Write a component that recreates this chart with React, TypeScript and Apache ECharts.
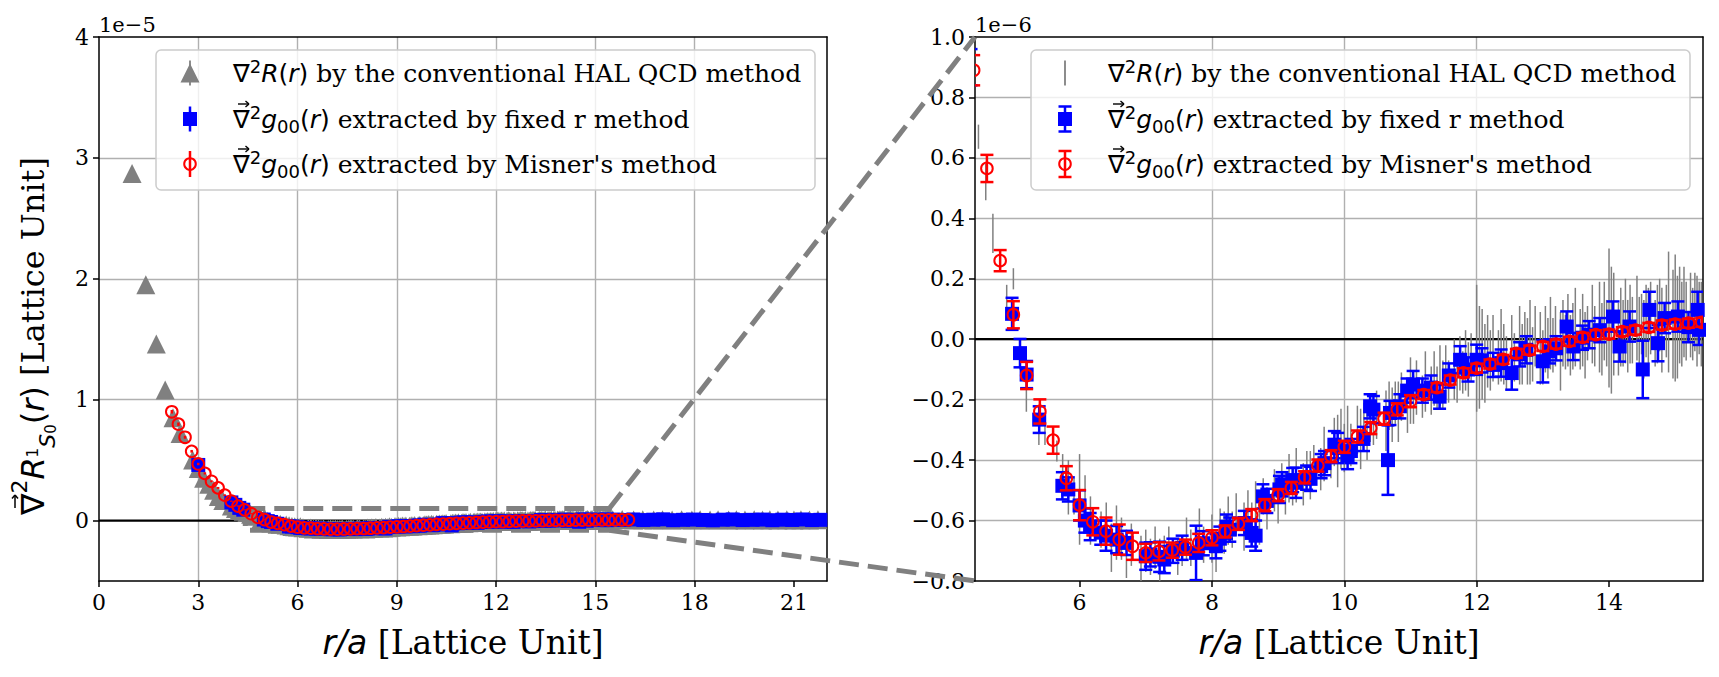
import React, { useEffect, useRef } from "react";
import * as echarts from "echarts";

const SERIF = "DejaVu Serif";
const MATH = "DejaVu Sans";
const GRAY = "#808080";
const BLUE = "#0000ff";
const RED = "#ff0000";

// Conventional HAL QCD method: [n = (r/a)^2, value (1e-6), error (1e-6)]
const halPoints: number[][] = [
  [1, 28.7, 0.2], [2, 19.5, 0.2], [3, 14.6, 0.15], [4, 10.8, 0.15], [5, 8.5, 0.12], [6, 7.2, 0.12],
  [8, 5.0, 0.1], [9, 4.3, 0.1], [10, 3.5, 0.1], [11, 3.0, 0.09], [12, 2.5, 0.08], [13, 2.0, 0.08],
  [14, 1.65, 0.07], [16, 1.2, 0.06], [17, 1.0, 0.06], [18, 0.9, 0.05], [19, 0.78, 0.05],
  [20, 0.67, 0.04], [21, 0.52, 0.06], [22, 0.35, 0.065], [24, 0.14, 0.04], [25, 0.2, 0.035],
  [26, -0.05, 0.05], [27, -0.2, 0.04], [29, -0.3, 0.05], [30, -0.31, 0.04], [32, -0.37, 0.035],
  [33, -0.43, 0.05], [34, -0.49, 0.09], [35, -0.52, 0.06], [36, -0.53, 0.15], [37, -0.52, 0.07],
  [38, -0.6, 0.08], [40, -0.63, 0.06], [41, -0.61, 0.07], [42, -0.69, 0.08], [43, -0.64, 0.09],
  [44, -0.66, 0.07], [45, -0.71, 0.08], [46, -0.68, 0.07], [48, -0.73, 0.08], [49, -0.7, 0.07],
  [50, -0.72, 0.06], [51, -0.69, 0.07], [52, -0.74, 0.08], [53, -0.71, 0.06], [54, -0.67, 0.05],
  [56, -0.72, 0.06], [57, -0.7, 0.05], [58, -0.66, 0.07], [59, -0.69, 0.06], [61, -0.64, 0.08],
  [62, -0.68, 0.06], [64, -0.66, 0.08], [65, -0.7, 0.07], [66, -0.62, 0.06], [67, -0.64, 0.07],
  [68, -0.6, 0.08], [69, -0.63, 0.06], [70, -0.58, 0.07], [72, -0.62, 0.08], [73, -0.56, 0.06],
  [74, -0.61, 0.07], [75, -0.55, 0.08], [76, -0.59, 0.09], [77, -0.52, 0.06], [78, -0.56, 0.07],
  [80, -0.5, 0.07], [81, -0.53, 0.08], [82, -0.47, 0.06], [83, -0.51, 0.07], [84, -0.46, 0.08],
  [85, -0.49, 0.06], [86, -0.45, 0.09], [88, -0.48, 0.07], [89, -0.43, 0.06], [90, -0.45, 0.08],
  [91, -0.41, 0.06], [93, -0.43, 0.07], [94, -0.38, 0.09], [96, -0.4, 0.06], [97, -0.34, 0.08],
  [98, -0.37, 0.12], [99, -0.33, 0.1], [100, -0.36, 0.08], [101, -0.31, 0.09], [102, -0.35, 0.07],
  [104, -0.3, 0.08], [105, -0.33, 0.1], [106, -0.28, 0.07], [107, -0.31, 0.09], [108, -0.26, 0.08],
  [109, -0.29, 0.06], [110, -0.25, 0.08], [113, -0.27, 0.1], [114, -0.22, 0.08], [115, -0.25, 0.09],
  [116, -0.21, 0.07], [117, -0.24, 0.1], [118, -0.19, 0.08], [120, -0.22, 0.09], [121, -0.17, 0.11],
  [122, -0.2, 0.08], [123, -0.16, 0.09], [125, -0.19, 0.07], [126, -0.14, 0.1], [128, -0.17, 0.08],
  [129, -0.13, 0.09], [130, -0.16, 0.07], [131, -0.12, 0.1], [132, -0.15, 0.08], [133, -0.11, 0.09],
  [134, -0.14, 0.07], [136, -0.1, 0.1], [137, -0.13, 0.08], [138, -0.08, 0.09], [139, -0.11, 0.07],
  [140, -0.07, 0.1], [141, -0.1, 0.09], [142, -0.06, 0.08], [144, -0.03, 0.21], [145, -0.06, 0.17],
  [146, -0.05, 0.15], [147, -0.08, 0.13], [148, -0.04, 0.12], [149, -0.07, 0.1], [150, -0.03, 0.11],
  [152, -0.06, 0.09], [153, -0.02, 0.12], [154, -0.05, 0.1], [155, -0.08, 0.09], [157, -0.03, 0.11],
  [158, -0.06, 0.08], [160, -0.02, 0.13], [161, -0.05, 0.1], [162, 0, 0.09], [163, -0.04, 0.11],
  [164, -0.01, 0.14], [165, -0.05, 0.09], [166, 0.01, 0.1], [168, -0.03, 0.12], [169, -0.06, 0.09],
  [170, 0, 0.11], [171, -0.03, 0.1], [172, 0.02, 0.12], [173, -0.02, 0.09], [174, 0.01, 0.1],
  [176, -0.04, 0.13], [177, 0.02, 0.11], [178, -0.01, 0.09], [179, 0.03, 0.12], [180, -0.02, 0.1],
  [181, 0.01, 0.11], [182, 0.04, 0.13], [184, 0, 0.1], [185, 0.03, 0.12], [186, -0.02, 0.11],
  [187, 0.02, 0.09], [189, 0.05, 0.13], [190, 0.01, 0.1], [192, 0.04, 0.15], [193, 0, 0.12],
  [194, 0.06, 0.13], [195, 0.02, 0.11], [196, 0.07, 0.23], [197, 0.03, 0.21], [198, 0.05, 0.17],
  [200, 0, 0.12], [201, 0.04, 0.13], [202, 0.02, 0.11], [203, 0.06, 0.14], [204, 0.01, 0.12],
  [205, 0.05, 0.13], [206, 0.03, 0.11], [208, 0.07, 0.14], [209, 0.02, 0.12], [210, 0.05, 0.1],
  [211, 0, 0.13], [212, 0.06, 0.12], [213, 0.03, 0.14], [214, 0.07, 0.12], [216, 0.02, 0.11],
  [217, 0.05, 0.13], [218, 0.08, 0.12], [219, 0.03, 0.14], [221, 0.06, 0.12], [222, 0.09, 0.2],
  [224, 0.05, 0.18], [225, 0.07, 0.21], [226, 0.04, 0.17], [227, 0.08, 0.16], [228, 0.05, 0.14],
  [229, 0.09, 0.15], [230, 0.06, 0.13], [232, 0.08, 0.14], [233, 0.05, 0.12], [234, 0.09, 0.13],
  [235, 0.06, 0.15], [236, 0.07, 0.12], [237, 0.05, 0.14],
  [241, 0.06, 0.15], [250, 0.08, 0.14], [261, 0.05, 0.16], [270, 0.07, 0.15], [281, 0.04, 0.17],
  [290, 0.06, 0.14], [300, 0.05, 0.16], [310, 0.07, 0.15], [321, 0.04, 0.17], [330, 0.06, 0.14],
  [341, 0.05, 0.16], [350, 0.07, 0.15], [362, 0.04, 0.18], [371, 0.06, 0.15], [381, 0.05, 0.16],
  [392, 0.07, 0.14], [402, 0.04, 0.17], [411, 0.06, 0.15], [421, 0.05, 0.16], [432, 0.07, 0.18],
  [441, 0.04, 0.15], [450, 0.06, 0.16], [461, 0.05, 0.17], [472, 0.07, 0.15],
];

// Fixed r method: [r/a, value (1e-6), error (1e-6)]
const fixedRPoints: number[][] = [
  [3.0, 4.6, 0.1], [4.0, 1.5, 0.08], [4.12, 1.3, 0.07], [4.24, 1.05, 0.06], [4.36, 0.9, 0.06],
  [4.98, 0.084, 0.053], [5.1, -0.046, 0.047], [5.2, -0.117, 0.045], [5.39, -0.266, 0.044],
  [5.74, -0.485, 0.045], [5.83, -0.497, 0.04], [6.0, -0.55, 0.05], [6.08, -0.6, 0.04],
  [6.16, -0.62, 0.045], [6.32, -0.64, 0.04], [6.4, -0.65, 0.05], [6.56, -0.663, 0.045],
  [6.71, -0.674, 0.04], [7.0, -0.718, 0.045], [7.07, -0.712, 0.04], [7.21, -0.72, 0.05],
  [7.28, -0.729, 0.045], [7.41, -0.7, 0.04], [7.55, -0.69, 0.04], [7.76, -0.707, 0.09],
  [7.87, -0.675, 0.04], [8.06, -0.685, 0.04], [8.12, -0.66, 0.04], [8.22, -0.62, 0.04],
  [8.27, -0.63, 0.04], [8.49, -0.608, 0.04], [8.6, -0.641, 0.045], [8.66, -0.65, 0.05],
  [8.77, -0.52, 0.04], [8.83, -0.535, 0.04], [9.02, -0.497, 0.045], [9.06, -0.48, 0.04],
  [9.22, -0.466, 0.04], [9.27, -0.475, 0.05], [9.43, -0.458, 0.04], [9.49, -0.462, 0.04],
  [9.65, -0.42, 0.04], [9.7, -0.41, 0.04], [9.85, -0.349, 0.045], [9.9, -0.36, 0.05],
  [10.05, -0.385, 0.045], [10.1, -0.37, 0.04], [10.29, -0.33, 0.04], [10.39, -0.222, 0.04],
  [10.44, -0.233, 0.045], [10.66, -0.4, 0.115], [10.69, -0.244, 0.04], [10.84, -0.222, 0.04],
  [10.95, -0.17, 0.04], [11.04, -0.15, 0.045], [11.18, -0.17, 0.04], [11.31, -0.16, 0.04],
  [11.44, -0.19, 0.04], [11.58, -0.12, 0.04], [11.75, -0.068, 0.045], [11.87, -0.1, 0.04],
  [12.0, -0.068, 0.05], [12.08, -0.07, 0.04], [12.25, -0.085, 0.04], [12.37, -0.079, 0.045],
  [12.53, -0.112, 0.055], [12.65, -0.05, 0.04], [12.75, -0.035, 0.045], [13.0, -0.073, 0.07],
  [13.1, -0.04, 0.04], [13.2, -0.03, 0.04], [13.36, 0.042, 0.05], [13.46, -0.024, 0.045],
  [13.6, 0.005, 0.04], [13.7, 0.015, 0.045], [13.86, 0.03, 0.04], [14.06, 0.075, 0.05],
  [14.16, -0.024, 0.05], [14.31, 0.042, 0.05], [14.51, -0.1, 0.095], [14.61, 0.097, 0.06],
  [14.74, -0.013, 0.06], [14.84, 0.07, 0.05], [15.04, 0.075, 0.05], [15.2, 0.04, 0.05],
  [15.34, 0.097, 0.06], [15.36, 0.031, 0.05],
  [15.55, 0.08, 0.1], [15.85, 0.05, 0.1], [16.15, 0.09, 0.1], [16.45, 0.04, 0.1], [16.75, 0.07, 0.1],
  [17.05, 0.1, 0.1], [17.35, 0.03, 0.1], [17.65, 0.06, 0.1], [17.95, 0.08, 0.1], [18.25, 0.05, 0.1],
  [18.55, 0.02, 0.1], [18.85, 0.07, 0.1], [19.15, 0.09, 0.1], [19.45, 0.04, 0.1], [19.75, 0.06, 0.1],
  [20.05, 0.08, 0.1], [20.35, 0.03, 0.1], [20.65, 0.07, 0.1], [20.95, 0.05, 0.1], [21.25, 0.09, 0.1],
  [21.55, 0.04, 0.1], [21.8, 0.06, 0.1],
];

// Misner's method: [r/a, value (1e-6), error (1e-6)]
const misnerPoints: number[][] = [
  [2.2, 9.0, 0.15], [2.4, 7.97, 0.14], [2.6, 6.89, 0.12], [2.8, 5.73, 0.11], [3.0, 4.68, 0.1],
  [3.2, 3.9, 0.09], [3.4, 3.25, 0.08], [3.6, 2.7, 0.08], [3.8, 2.1, 0.07], [4.0, 1.6, 0.06],
  [4.2, 1.2, 0.06], [4.4, 0.89, 0.05], [4.6, 0.565, 0.045], [4.8, 0.26, 0.035], [5.0, 0.081, 0.045],
  [5.2, -0.12, 0.045], [5.4, -0.239, 0.04], [5.6, -0.334, 0.045], [5.8, -0.46, 0.04], [6.0, -0.549, 0.05],
  [6.2, -0.604, 0.045], [6.4, -0.635, 0.045], [6.6, -0.663, 0.05], [6.8, -0.685, 0.045], [7.0, -0.707, 0.03],
  [7.2, -0.702, 0.03], [7.4, -0.698, 0.025], [7.6, -0.688, 0.025], [7.8, -0.674, 0.03], [8.0, -0.657, 0.025],
  [8.2, -0.636, 0.02], [8.4, -0.611, 0.02], [8.6, -0.582, 0.02], [8.8, -0.549, 0.02], [9.0, -0.516, 0.02],
  [9.2, -0.492, 0.02], [9.4, -0.457, 0.02], [9.6, -0.418, 0.02], [9.8, -0.387, 0.02], [10.0, -0.356, 0.02],
  [10.2, -0.322, 0.02], [10.4, -0.294, 0.02], [10.6, -0.263, 0.02], [10.8, -0.232, 0.02], [11.0, -0.205, 0.02],
  [11.2, -0.183, 0.015], [11.4, -0.16, 0.015], [11.6, -0.135, 0.015], [11.8, -0.111, 0.015], [12.0, -0.096, 0.015],
  [12.2, -0.082, 0.015], [12.4, -0.067, 0.015], [12.6, -0.047, 0.015], [12.8, -0.036, 0.015], [13.0, -0.024, 0.015],
  [13.2, -0.016, 0.015], [13.4, -0.007, 0.015], [13.6, 0.006, 0.015], [13.8, 0.015, 0.015], [14.0, 0.017, 0.015],
  [14.2, 0.025, 0.015], [14.4, 0.03, 0.015], [14.6, 0.039, 0.015], [14.8, 0.047, 0.015], [15.0, 0.05, 0.015],
  [15.2, 0.053, 0.015], [15.4, 0.056, 0.015], [15.6, 0.058, 0.015], [15.8, 0.06, 0.015], [16.0, 0.062, 0.015],
];

// Axis ranges and ticks (full view in units of 1e-5, zoomed view in units of 1e-6)
const leftXRange = [0, 22];
const leftYRange = [-0.5, 4];
const leftXTicks = [0, 3, 6, 9, 12, 15, 18, 21];
const leftYTicks = [0, 1, 2, 3, 4];
const zoomXRange = [4.42, 15.42];
const zoomYRange = [-0.8, 1.0];
const zoomXTicks = [6, 8, 10, 12, 14];
const zoomYTicks = [-0.8, -0.6, -0.4, -0.2, 0, 0.2, 0.4, 0.6, 0.8, 1.0];

const legendLabels = [
  "{m|\u2207}{sup|2}{mi|R}{m|(}{mi|r}{m|)}{t| by the conventional HAL QCD method}",
  "{m|\u2207}{sup|2}{mi|g}{sub|00}{m|(}{mi|r}{m|)}{t| extracted by fixed r method}",
  "{m|\u2207}{sup|2}{mi|g}{sub|00}{m|(}{mi|r}{m|)}{t| extracted by Misner's method}",
];
// rows whose nabla carries a vector arrow
const legendVectorRows = [false, true, true];
const xAxisName = "{mi|r/a}{t| [Lattice Unit]}";
const yAxisName =
  "{m|\u2207}{sup|2}{mi|R}{s1|1}{sS|S}{s0|0}{m|(}{mi|r}{m|)}{t| [Lattice Unit]}";

// Layout
const GRID_TOP = 37;
const GRID_W = 728;
const GRID_H = 544;
const LEFT_GRID_X = 99;
const RIGHT_GRID_X = 975;
const LEGEND_W = 659;
const LEGEND_H = 140;
const LEGEND_FONT = 25;
const YNAME_FONT = 32;
const NABLA_ADVANCE = 0.838; // DejaVu Sans nabla width in em

const tok = (family: string, size: number, lh: number, extra: any = {}) => ({
  fontFamily: family,
  fontSize: size,
  lineHeight: lh,
  color: "#000",
  fill: "#000",
  ...extra,
});

const legendRich = {
  m: tok(MATH, LEGEND_FONT, 32),
  mi: tok(MATH, LEGEND_FONT, 32, { fontStyle: "italic" }),
  sup: tok(MATH, 18, 20, { verticalAlign: "top" }),
  sub: tok(MATH, 18, 20, { verticalAlign: "bottom" }),
  t: tok(SERIF, LEGEND_FONT, 32),
};

const nameRich = {
  mi: tok(MATH, 33, 44, { fontStyle: "italic" }),
  t: tok(SERIF, 33, 44),
};

const yNameRich = {
  m: tok(MATH, YNAME_FONT, 50),
  mi: tok(MATH, YNAME_FONT, 50, { fontStyle: "italic" }),
  sup: tok(MATH, 22, 30, { verticalAlign: "top" }),
  s1: tok(MATH, 15, 50),
  sS: tok(MATH, 22, 34, { verticalAlign: "bottom", fontStyle: "italic" }),
  s0: tok(MATH, 15, 18, { verticalAlign: "bottom" }),
  t: tok(SERIF, YNAME_FONT, 50),
};

const halXY = halPoints.map(([n, v, e]) => [Math.sqrt(n), v, e]);
const toFull = (pts: number[][]) => pts.map(([x, v, e]) => [x, v / 10, e / 10]);

function errorBarSeries(
  data: number[][],
  idx: number,
  color: string,
  width: number,
  capHalf: number,
  circleR: number,
  z: number
) {
  return {
    type: "custom",
    xAxisIndex: idx,
    yAxisIndex: idx,
    clip: true,
    silent: true,
    z,
    data,
    encode: { x: 0, y: 1 },
    renderItem: (_params: any, api: any) => {
      const x = api.value(0);
      const y = api.value(1);
      const e = api.value(2);
      const lo = api.coord([x, y - e]);
      const hi = api.coord([x, y + e]);
      const children: any[] = [
        {
          type: "line",
          shape: { x1: lo[0], y1: lo[1], x2: hi[0], y2: hi[1] },
          style: { stroke: color, lineWidth: width },
        },
      ];
      if (capHalf > 0) {
        for (const p of [lo, hi]) {
          children.push({
            type: "line",
            shape: { x1: p[0] - capHalf, y1: p[1], x2: p[0] + capHalf, y2: p[1] },
            style: { stroke: color, lineWidth: width },
          });
        }
      }
      if (circleR > 0) {
        const c = api.coord([x, y]);
        children.push({
          type: "circle",
          shape: { cx: c[0], cy: c[1], r: circleR },
          style: { fill: "none", stroke: color, lineWidth: 2 },
        });
      }
      return { type: "group", children };
    },
  };
}

function mainXAxis(gridIndex: number, range: number[], ticks: number[]) {
  return {
    type: "value",
    gridIndex,
    position: "bottom",
    min: range[0],
    max: range[1],
    axisLine: { show: true, onZero: false, lineStyle: { color: "#000", width: 1.5 } },
    axisTick: { show: true, customValues: ticks, length: 6, lineStyle: { color: "#000", width: 1.5 } },
    axisLabel: { customValues: ticks, color: "#000", fontFamily: SERIF, fontSize: 22, margin: 10 },
    splitLine: {
      show: true,
      showMinLine: false,
      showMaxLine: false,
      lineStyle: { color: "#b0b0b0", width: 1.4 },
    },
    name: xAxisName,
    nameLocation: "middle",
    nameGap: 39,
    nameTextStyle: { rich: nameRich },
  };
}

function mainYAxis(gridIndex: number, range: number[], ticks: number[], fmt: (v: number) => string) {
  return {
    type: "value",
    gridIndex,
    position: "left",
    min: range[0],
    max: range[1],
    axisLine: { show: true, onZero: false, lineStyle: { color: "#000", width: 1.5 } },
    axisTick: { show: true, customValues: ticks, length: 6, lineStyle: { color: "#000", width: 1.5 } },
    axisLabel: {
      customValues: ticks,
      color: "#000",
      fontFamily: SERIF,
      fontSize: 22,
      margin: 10,
      formatter: fmt,
    },
    splitLine: {
      show: true,
      showMinLine: false,
      showMaxLine: false,
      lineStyle: { color: "#b0b0b0", width: 1.4 },
    },
  };
}

function frameAxis(gridIndex: number, position: string, range: number[]) {
  return {
    type: "value",
    gridIndex,
    position,
    min: range[0],
    max: range[1],
    axisLine: { show: true, onZero: false, lineStyle: { color: "#000", width: 1.5 } },
    axisTick: { show: false },
    axisLabel: { show: false },
    splitLine: { show: false },
  };
}

const signed = (v: number) => (v < 0 ? "\u2212" + Math.abs(v).toFixed(1) : v.toFixed(1));

function buildOption() {
  const halFull = toFull(halXY);
  const fixedFull = toFull(fixedRPoints);
  const misnerFull = toFull(misnerPoints);
  const zx = zoomXRange;
  const zy = zoomYRange.map((v) => v / 10);
  const zoomBox = [
    [zx[0], zy[1]],
    [zx[1], zy[1]],
    [zx[1], zy[0]],
    [zx[0], zy[0]],
    [zx[0], zy[1]],
  ];

  return {
    animation: false,
    backgroundColor: "#ffffff",
    grid: [
      { left: LEFT_GRID_X, top: GRID_TOP, width: GRID_W, height: GRID_H, outerBoundsMode: "none" },
      { left: RIGHT_GRID_X, top: GRID_TOP, width: GRID_W, height: GRID_H, outerBoundsMode: "none" },
    ],
    xAxis: [
      mainXAxis(0, leftXRange, leftXTicks),
      mainXAxis(1, zoomXRange, zoomXTicks),
      frameAxis(0, "top", leftXRange),
      frameAxis(1, "top", zoomXRange),
    ],
    yAxis: [
      mainYAxis(0, leftYRange, leftYTicks, (v: number) => String(v)),
      mainYAxis(1, zoomYRange, zoomYTicks, signed),
      frameAxis(0, "right", leftYRange),
      frameAxis(1, "right", zoomYRange),
    ],
    series: [
      // full view
      {
        type: "line",
        xAxisIndex: 0,
        yAxisIndex: 0,
        data: [[leftXRange[0], 0], [leftXRange[1], 0]],
        symbol: "none",
        silent: true,
        z: 1,
        lineStyle: { color: "#000", width: 2.2 },
      },
      {
        type: "line",
        xAxisIndex: 0,
        yAxisIndex: 0,
        data: zoomBox,
        symbol: "none",
        silent: true,
        z: 1,
        lineStyle: { color: GRAY, width: 5, type: [20, 9], cap: "butt" },
      },
      errorBarSeries(halFull, 0, GRAY, 1.5, 0, 0, 2),
      {
        type: "scatter",
        xAxisIndex: 0,
        yAxisIndex: 0,
        data: halFull.map((p) => [p[0], p[1]]),
        symbol: "triangle",
        symbolSize: 19,
        silent: true,
        z: 3,
        itemStyle: { color: GRAY, opacity: 1 },
      },
      errorBarSeries(fixedFull, 0, BLUE, 2.5, 0, 0, 4),
      {
        type: "scatter",
        xAxisIndex: 0,
        yAxisIndex: 0,
        data: fixedFull.map((p) => [p[0], p[1]]),
        symbol: "rect",
        symbolSize: 14,
        silent: true,
        z: 5,
        itemStyle: { color: BLUE, opacity: 1 },
      },
      errorBarSeries(misnerFull, 0, RED, 2.5, 0, 5.8, 6),
      // zoomed view
      {
        type: "line",
        xAxisIndex: 1,
        yAxisIndex: 1,
        data: [[zoomXRange[0], 0], [zoomXRange[1], 0]],
        symbol: "none",
        silent: true,
        z: 1,
        lineStyle: { color: "#000", width: 2.2 },
      },
      errorBarSeries(halXY, 1, GRAY, 1.5, 0, 0, 2),
      errorBarSeries(fixedRPoints, 1, BLUE, 2.5, 6.5, 0, 4),
      {
        type: "scatter",
        xAxisIndex: 1,
        yAxisIndex: 1,
        data: fixedRPoints.map((p) => [p[0], p[1]]),
        symbol: "rect",
        symbolSize: 14,
        silent: true,
        z: 5,
        itemStyle: { color: BLUE, opacity: 1 },
      },
      errorBarSeries(misnerPoints, 1, RED, 2.5, 6.5, 5.8, 6),
    ],
  };
}

function seg(x1: number, y1: number, x2: number, y2: number, color: string, width: number, z: number) {
  return {
    type: "line",
    shape: { x1, y1, x2, y2 },
    style: { stroke: color, lineWidth: width },
    z,
    silent: true,
  };
}

// Small vector arrow centred at (cx, cy); points right, or up for the rotated title
function vectorArrow(cx: number, cy: number, len: number, upward: boolean, z: number) {
  const h = len / 2;
  if (!upward) {
    return [
      seg(cx - h, cy, cx + h, cy, "#000", 1.4, z),
      seg(cx + h - 3.5, cy - 3, cx + h, cy, "#000", 1.4, z),
      seg(cx + h - 3.5, cy + 3, cx + h, cy, "#000", 1.4, z),
    ];
  }
  return [
    seg(cx, cy + h, cx, cy - h, "#000", 1.5, z),
    seg(cx - 3, cy - h + 3.5, cx, cy - h, "#000", 1.5, z),
    seg(cx + 3, cy - h + 3.5, cx, cy - h, "#000", 1.5, z),
  ];
}

function legendElements(x0: number, y0: number, zoomed: boolean) {
  const mx = x0 + 34;
  const tx = x0 + 77;
  const rows = [y0 + 23, y0 + 69, y0 + 114];
  const els: any[] = [
    {
      type: "rect",
      shape: { x: x0, y: y0, width: LEGEND_W, height: LEGEND_H, r: 5 },
      style: { fill: "rgba(255,255,255,0.8)", stroke: "#cccccc", lineWidth: 1.5 },
      z: 50,
      silent: true,
    },
  ];
  // conventional method
  els.push(seg(mx, rows[0] - 12.5, mx, rows[0] + 12.5, GRAY, 1.8, 51));
  if (!zoomed) {
    els.push({
      type: "polygon",
      shape: {
        points: [
          [mx, rows[0] - 9.5],
          [mx + 9.5, rows[0] + 9.5],
          [mx - 9.5, rows[0] + 9.5],
        ],
      },
      style: { fill: GRAY },
      z: 52,
      silent: true,
    });
  }
  // fixed r method
  els.push(seg(mx, rows[1] - 12.5, mx, rows[1] + 12.5, BLUE, 2.5, 51));
  if (zoomed) {
    els.push(seg(mx - 6.5, rows[1] - 12.5, mx + 6.5, rows[1] - 12.5, BLUE, 2.5, 51));
    els.push(seg(mx - 6.5, rows[1] + 12.5, mx + 6.5, rows[1] + 12.5, BLUE, 2.5, 51));
  }
  els.push({
    type: "rect",
    shape: { x: mx - 7, y: rows[1] - 7, width: 14, height: 14 },
    style: { fill: BLUE },
    z: 52,
    silent: true,
  });
  // Misner's method
  els.push(seg(mx, rows[2] - 13, mx, rows[2] + 13, RED, 2.5, 51));
  if (zoomed) {
    els.push(seg(mx - 6.5, rows[2] - 13, mx + 6.5, rows[2] - 13, RED, 2.5, 51));
    els.push(seg(mx - 6.5, rows[2] + 13, mx + 6.5, rows[2] + 13, RED, 2.5, 51));
  }
  els.push({
    type: "circle",
    shape: { cx: mx, cy: rows[2], r: 5.8 },
    style: { fill: "none", stroke: RED, lineWidth: 2 },
    z: 52,
    silent: true,
  });
  legendLabels.forEach((label, i) => {
    els.push({
      type: "text",
      x: tx,
      y: rows[i],
      z: 53,
      silent: true,
      style: {
        text: label,
        rich: legendRich,
        align: "left",
        verticalAlign: "middle",
        textAlign: "left",
        textVerticalAlign: "middle",
      },
    });
    if (legendVectorRows[i]) {
      const cx = tx + (NABLA_ADVANCE * LEGEND_FONT) / 2;
      els.push(...vectorArrow(cx, rows[i] - 15, 11, false, 54));
    }
  });
  return els;
}

function buildGraphics(chart: any) {
  const a = chart.convertToPixel({ gridIndex: 0 }, [zoomXRange[1], zoomYRange[1] / 10]);
  const b = chart.convertToPixel({ gridIndex: 0 }, [zoomXRange[1], zoomYRange[0] / 10]);
  const c = chart.convertToPixel({ gridIndex: 1 }, [zoomXRange[0], zoomYRange[1]]);
  const d = chart.convertToPixel({ gridIndex: 1 }, [zoomXRange[0], zoomYRange[0]]);
  const dash = { stroke: GRAY, lineWidth: 5, lineDash: [20, 9] };

  const offsetStyle = {
    fontFamily: SERIF,
    fontSize: 21,
    fill: "#000",
    align: "left",
    verticalAlign: "middle",
    textAlign: "left",
    textVerticalAlign: "middle",
  };

  // rotated y-axis title, anchored at its starting end
  const yNameX = 33;
  const yNameStart = 515;
  const nablaMid = yNameStart - (NABLA_ADVANCE * YNAME_FONT) / 2;

  return [
    {
      type: "text",
      x: yNameX,
      y: yNameStart,
      rotation: Math.PI / 2,
      z: 60,
      silent: true,
      style: {
        text: yAxisName,
        rich: yNameRich,
        align: "left",
        verticalAlign: "middle",
        textAlign: "left",
        textVerticalAlign: "middle",
      },
    },
    ...vectorArrow(yNameX - 18, nablaMid, 13, true, 61),
    { type: "text", x: LEFT_GRID_X, y: 25, z: 60, silent: true, style: { text: "1e\u22125", ...offsetStyle } },
    { type: "text", x: RIGHT_GRID_X, y: 25, z: 60, silent: true, style: { text: "1e\u22126", ...offsetStyle } },
    ...legendElements(156, 50, false),
    ...legendElements(1031, 50, true),
    {
      type: "line",
      z: 100,
      silent: true,
      shape: { x1: a[0], y1: a[1], x2: c[0], y2: c[1] },
      style: dash,
    },
    {
      type: "line",
      z: 100,
      silent: true,
      shape: { x1: b[0], y1: b[1], x2: d[0], y2: d[1] },
      style: dash,
    },
  ];
}

export default function App() {
  const ref = useRef<HTMLDivElement>(null);
  useEffect(() => {
    const el = ref.current;
    if (!el) return;
    const chart = echarts.init(el, null, { renderer: "svg" });
    chart.setOption(buildOption() as any);
    chart.setOption({ graphic: buildGraphics(chart) } as any);
    return () => chart.dispose();
  }, []);
  return (
    <div
      ref={ref}
      style={{ position: "absolute", left: 0, top: 0, width: 1719, height: 677, background: "#fff" }}
    />
  );
}
